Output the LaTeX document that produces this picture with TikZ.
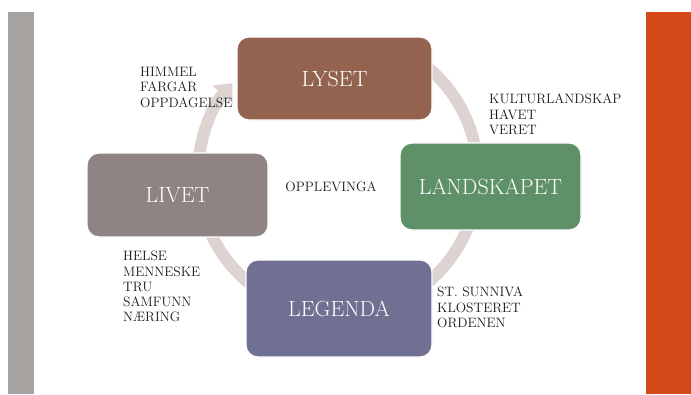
\documentclass[tikz,border=0pt]{standalone}
\usetikzlibrary{arrows.meta}
\definecolor{barGrey}{HTML}{A6A29F}
\definecolor{barOrange}{HTML}{D34A18}
\definecolor{cLyset}{HTML}{946350}
\definecolor{cLand}{HTML}{5F9168}
\definecolor{cLeg}{HTML}{707092}
\definecolor{cLiv}{HTML}{8F8383}
\definecolor{cRing}{HTML}{DDD4D2}
\definecolor{cText}{HTML}{1A1A1A}
\begin{document}
\begin{tikzpicture}[x=1pt,y=-1pt,
  box/.style={draw=white, line width=1.2pt, rounded corners=12pt, text=white,
    font=\fontsize{22}{24}\selectfont, inner sep=0pt},
  lbl/.style={align=left, inner sep=0pt, text=cText, font=\fontsize{13.6}{15.3}\selectfont},
  ring/.style={draw=cRing, line width=12pt, -{Triangle[width=26pt,length=15pt]}}]
\useasboundingbox (0,0) rectangle (691,394);
\fill[white] (0,0) rectangle (691,394);
\fill[barGrey] (8,12) rectangle (34,394);
\fill[barOrange] (646,12) rectangle (691,394);
\coordinate (ctr) at (338,175);
\draw[ring] ([shift={(-60:140)}]ctr) arc[start angle=-60,end angle=221,radius=140];
\node[box, fill=cLyset, minimum width=195pt, minimum height=83pt] (lyset) at (334.5,78.5) {LYSET};
\node[box, fill=cLand, minimum width=181pt, minimum height=87pt] (land) at (490.5,186.5) {LANDSKAPET};
\node[box, fill=cLeg, minimum width=186pt, minimum height=97pt] (leg) at (339,308.5) {LEGENDA};
\node[box, fill=cLiv, minimum width=181pt, minimum height=84pt] (liv) at (177.5,195) {LIVET};
\node[lbl, anchor=north west] (t1) at (140,67) {HIMMEL\\FARGAR\\OPPDAGELSE};
\node[lbl, anchor=north west] (t2) at (489,94) {KULTURLANDSKAP\\HAVET\\VERET};
\node[lbl, anchor=north west] (t3) at (123,251) {HELSE\\MENNESKE\\TRU\\SAMFUNN\\NÆRING};
\node[lbl, anchor=north west] (t4) at (437,287) {ST. SUNNIVA\\KLOSTERET\\ORDENEN};
\node[lbl] (t5) at (331,187) {OPPLEVINGA};
\end{tikzpicture}
\end{document}
